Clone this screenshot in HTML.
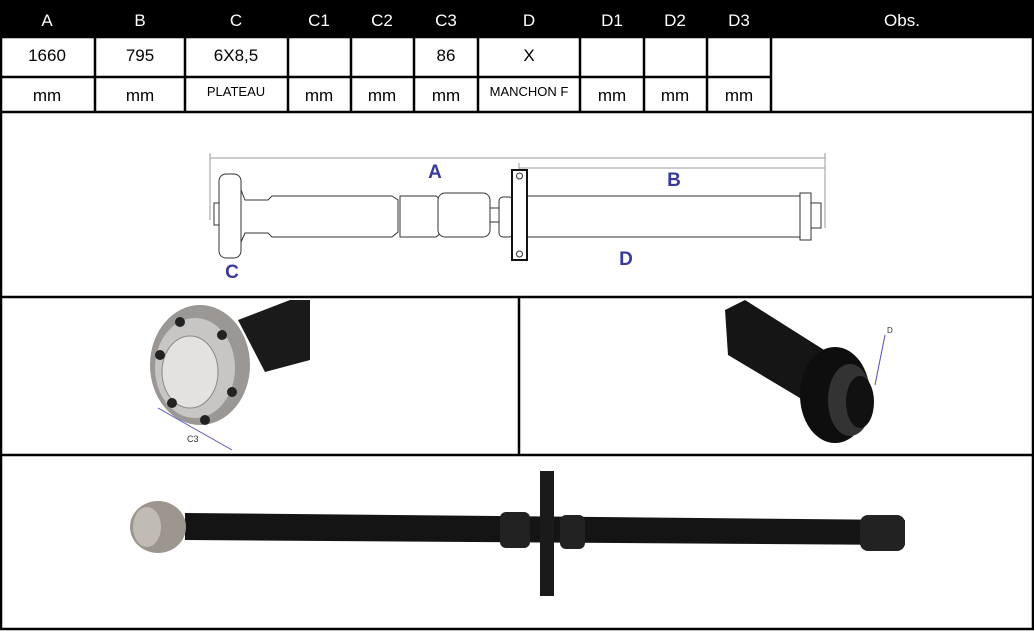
<!DOCTYPE html>
<html><head><style>
body{margin:0;width:1034px;height:631px;background:#fff;font-family:"Liberation Sans",sans-serif;overflow:hidden;position:relative}
.c{position:absolute;box-sizing:border-box;text-align:center;font-size:17px}
.h{background:#000;color:#fff}
.b{border:2px solid #000;background:#fff}
</style></head><body>
<div class="c h" style="left:0;top:0;width:1034px;height:38px"></div>
<svg width="1034" height="631" style="position:absolute;left:0;top:0">
<g font-family="Liberation Sans" font-size="17" text-anchor="middle" fill="#fff">
<text x="47" y="26">A</text><text x="140" y="26">B</text><text x="236" y="26">C</text>
<text x="319" y="26">C1</text><text x="382" y="26">C2</text><text x="446" y="26">C3</text>
<text x="529" y="26">D</text><text x="612" y="26">D1</text><text x="675" y="26">D2</text>
<text x="739" y="26">D3</text><text x="902" y="26">Obs.</text>
</g>
<g fill="none" stroke="#000" stroke-width="2.5">
<rect x="1" y="37" width="1032" height="592"/>
<line x1="0" y1="77" x2="771" y2="77"/>
<line x1="0" y1="112" x2="1034" y2="112"/>
<line x1="0" y1="297" x2="1034" y2="297"/>
<line x1="0" y1="455" x2="1034" y2="455"/>
<line x1="519" y1="297" x2="519" y2="455"/>
<line x1="95" y1="37" x2="95" y2="112"/><line x1="185" y1="37" x2="185" y2="112"/>
<line x1="288" y1="37" x2="288" y2="112"/><line x1="351" y1="37" x2="351" y2="112"/>
<line x1="414" y1="37" x2="414" y2="112"/><line x1="478" y1="37" x2="478" y2="112"/>
<line x1="580" y1="37" x2="580" y2="112"/><line x1="644" y1="37" x2="644" y2="112"/>
<line x1="707" y1="37" x2="707" y2="112"/><line x1="771" y1="37" x2="771" y2="112"/>
</g>
<g font-family="Liberation Sans" font-size="17" text-anchor="middle" fill="#000">
<text x="47" y="61">1660</text><text x="140" y="61">795</text><text x="236" y="61">6X8,5</text>
<text x="446" y="61">86</text><text x="529" y="61">X</text>
<text x="47" y="101">mm</text><text x="140" y="101">mm</text><text x="236" y="96" font-size="13">PLATEAU</text>
<text x="319" y="101">mm</text><text x="382" y="101">mm</text><text x="446" y="101">mm</text>
<text x="529" y="96" font-size="13">MANCHON F</text>
<text x="612" y="101">mm</text><text x="675" y="101">mm</text><text x="739" y="101">mm</text>
</g>
<!-- diagram -->
<g fill="none" stroke="#999" stroke-width="1">
<line x1="210" y1="158" x2="825" y2="158"/><line x1="210" y1="153" x2="210" y2="220"/>
<line x1="825" y1="153" x2="825" y2="228"/><line x1="519" y1="168" x2="825" y2="168"/>
<line x1="519" y1="163" x2="519" y2="172"/>
</g>
<g fill="#fff" stroke="#333" stroke-width="1">
<rect x="214" y="203" width="6" height="22"/>
<rect x="219" y="174" width="22" height="84" rx="7"/>
<path d="M241 190 L245 200 L268 200 L272 196 L392 196 L398 200 L398 232 L392 237 L272 237 L268 233 L245 233 L241 242Z"/>
<path d="M400 196 L436 196 L441 200 L441 233 L436 237 L400 237 Z" fill="none"/>
<rect x="438" y="193" width="52" height="44" rx="7"/>
<rect x="490" y="208" width="10" height="14"/>
<rect x="499" y="197" width="14" height="40" rx="4"/>
<rect x="527" y="196" width="274" height="41"/>
<rect x="800" y="193" width="11" height="47"/>
<rect x="811" y="203" width="10" height="25"/>
<rect x="512" y="170" width="15" height="90" stroke="#111" stroke-width="2"/>
<circle cx="519.5" cy="176" r="3"/><circle cx="519.5" cy="254" r="3"/>
</g>
<g font-family="Liberation Sans" font-size="19" font-weight="bold" fill="#3a3a9a" text-anchor="middle">
<text x="435" y="178">A</text><text x="674" y="186">B</text><text x="626" y="265">D</text><text x="232" y="278">C</text>
</g>
<!-- left photo -->
<path d="M238 320 L290 300 L310 300 L310 360 L265 372 Z" fill="#1a1a1a"/>
<ellipse cx="200" cy="365" rx="50" ry="60" fill="#9a9795"/>
<ellipse cx="195" cy="368" rx="40" ry="50" fill="#c8c6c4"/>
<ellipse cx="190" cy="372" rx="28" ry="36" fill="#e3e2e0" stroke="#888"/>
<g fill="#222"><circle cx="160" cy="355" r="5"/><circle cx="172" cy="403" r="5"/><circle cx="205" cy="420" r="5"/><circle cx="232" cy="392" r="5"/><circle cx="222" cy="335" r="5"/><circle cx="180" cy="322" r="5"/></g>
<line x1="158" y1="408" x2="232" y2="450" stroke="#5050c0"/>
<text x="187" y="442" font-size="9" font-family="Liberation Sans" fill="#333">C3</text>
<!-- right photo -->
<path d="M725 310 L745 300 L840 360 L820 410 L728 355 Z" fill="#151515"/>
<ellipse cx="835" cy="395" rx="35" ry="48" fill="#0e0e0e"/>
<ellipse cx="850" cy="400" rx="22" ry="36" fill="#333"/>
<ellipse cx="860" cy="402" rx="14" ry="26" fill="#111"/>
<line x1="875" y1="385" x2="885" y2="335" stroke="#5050c0"/>
<text x="887" y="333" font-size="8" font-family="Liberation Sans" fill="#333">D</text>
<!-- bottom photo -->
<path d="M185 513 L905 520 L905 545 L185 540 Z" fill="#141414"/>
<rect x="540" y="471" width="14" height="125" fill="#1a1a1a"/>
<rect x="500" y="512" width="30" height="36" rx="6" fill="#222"/>
<rect x="560" y="515" width="25" height="34" rx="6" fill="#222"/>
<rect x="860" y="515" width="45" height="36" rx="8" fill="#222"/>
<ellipse cx="158" cy="527" rx="28" ry="26" fill="#9c968e"/>
<ellipse cx="147" cy="527" rx="14" ry="20" fill="#c0bbb3"/>
</svg>
</body></html>
